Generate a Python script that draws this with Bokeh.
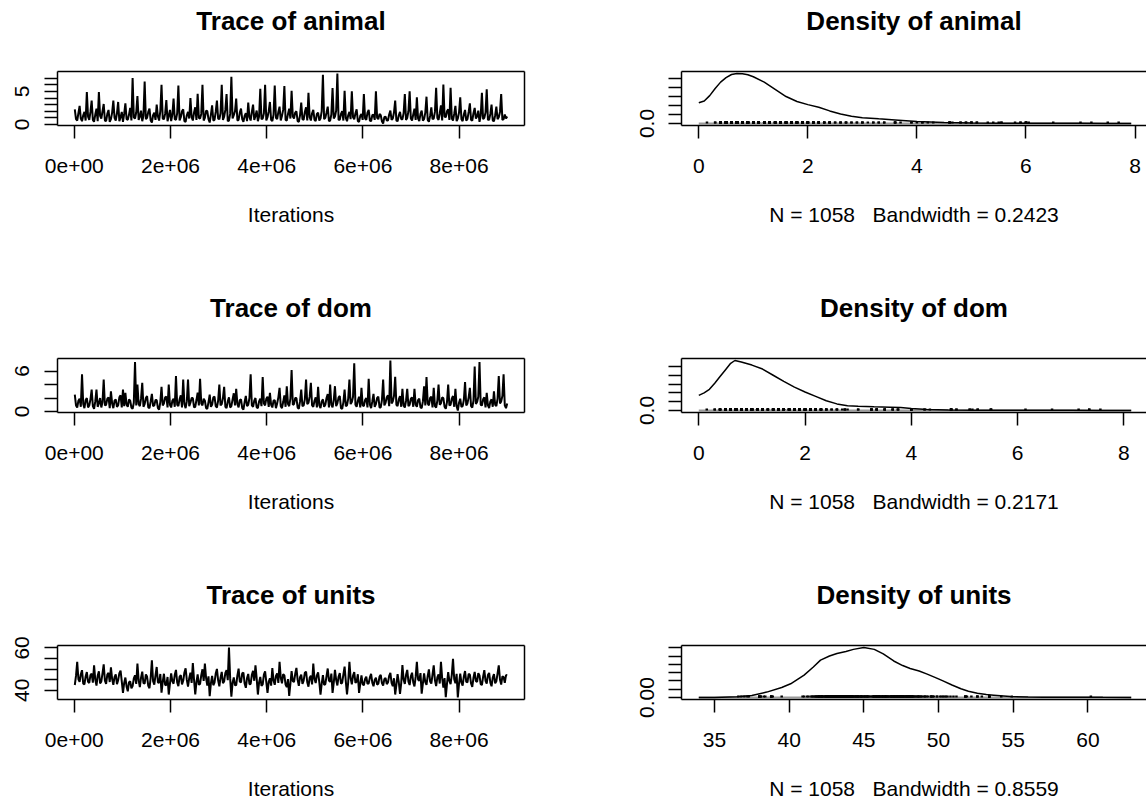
import numpy as np
from bokeh.plotting import figure
from bokeh.models import Range1d, FixedTicker, LinearAxis
from bokeh.layouts import column, row
from bokeh.embed import file_html
from bokeh.resources import INLINE

FONT = "Liberation Sans"

# ---- MCMC output (thinned chain) ----
n_samples = 1058
iter_first = 10000
iter_last = 9000000

animal_trace = [
    2.3, 0.8, 0.6, 1.7, 2.8, 0.9, 0.5, 1.4, 1.9, 0.6, 4.9, 1.2, 0.7, 1.9, 3.6, 0.7, 0.4, 1.5, 2.4, 0.5,
    4.9, 1.3, 0.9, 2.0, 3.1, 0.6, 0.5, 1.6, 2.2, 0.4, 0.8, 1.8, 3.6, 1.0, 0.6, 1.7, 3.4, 0.5, 1.1, 1.9,
    0.4, 1.6, 3.2, 0.8, 0.7, 1.5, 2.5, 0.6, 7.0, 1.1, 0.9, 1.8, 4.3, 0.7, 1.2, 2.1, 0.5, 1.3, 6.5, 0.8,
    1.0, 1.9, 2.4, 0.6, 0.3, 1.4, 1.8, 0.7, 3.0, 1.2, 0.6, 2.0, 6.0, 0.9, 0.8, 1.6, 3.7, 0.5, 1.3, 2.2,
    0.5, 1.5, 3.9, 0.8, 0.7, 1.7, 5.9, 0.6, 1.1, 2.0, 2.3, 0.5, 0.4, 1.4, 1.9, 0.9, 4.0, 1.1, 0.6, 1.8,
    2.6, 0.7, 4.65, 1.0, 0.9, 1.6, 6.0, 0.6, 1.0, 2.1, 2.0, 0.8, 0.3, 1.5, 2.9, 0.6, 0.7, 1.9, 3.6, 0.9,
    0.8, 1.7, 6.0, 0.7, 1.2, 2.2, 4.6, 0.5, 0.6, 1.6, 7.2, 0.9, 1.4, 2.0, 3.9, 0.6, 0.7, 1.8, 2.4, 0.8,
    0.4, 1.3, 1.7, 0.5, 3.3, 1.1, 0.6, 1.9, 3.0, 0.7, 1.3, 2.1, 0.5, 1.2, 5.4, 0.8, 0.9, 1.7, 6.0, 0.6,
    1.1, 2.0, 3.4, 0.7, 0.5, 1.5, 5.9, 1.0, 0.8, 1.9, 2.7, 0.6, 1.3, 2.2, 5.8, 0.7, 0.6, 1.6, 2.4, 0.9,
    5.1, 1.2, 0.9, 1.8, 2.0, 0.5, 0.4, 1.4, 3.3, 0.8, 0.7, 1.9, 2.6, 0.6, 4.8, 1.1, 0.6, 1.7, 2.2, 0.7,
    0.5, 1.6, 1.8, 0.6, 0.9, 2.0, 7.5, 0.8, 1.0, 1.8, 2.7, 0.5, 0.6, 1.5, 5.5, 0.9, 1.2, 2.1, 7.7, 0.7,
    0.7, 1.6, 2.0, 0.6, 5.1, 1.0, 0.5, 1.4, 1.9, 0.8, 5.0, 1.1, 0.8, 1.7, 2.3, 0.5, 0.4, 1.3, 1.6, 0.7,
    4.6, 0.9, 0.7, 1.8, 2.2, 0.6, 0.5, 1.4, 1.5, 0.7, 5.0, 1.0, 0.8, 1.6, 1.4, 0.5, 0.15, 1.1, 1.2, 0.6,
    0.6, 1.5, 2.1, 0.7, 0.9, 1.8, 3.6, 0.6, 0.5, 1.4, 1.9, 0.8, 0.8, 1.7, 4.6, 0.7, 1.0, 2.0, 5.0, 0.9,
    0.6, 1.5, 2.4, 0.7, 4.1, 0.9, 0.5, 1.6, 2.1, 0.6, 0.8, 1.8, 4.2, 0.7, 0.4, 1.3, 2.6, 0.8, 0.9, 1.9,
    5.55, 1.0, 0.7, 1.7, 2.9, 0.6, 6.05, 1.2, 1.1, 2.0, 2.3, 0.7, 5.55, 0.9, 0.6, 1.6, 2.8, 0.5, 0.9, 1.8,
    4.1, 0.8, 0.5, 1.5, 2.2, 0.6, 0.8, 1.9, 3.2, 0.7, 0.6, 1.7, 2.5, 0.9, 1.2, 2.1, 0.4, 1.3, 4.8, 0.8,
    1.0, 1.8, 5.3, 0.7, 0.7, 1.6, 3.0, 0.6, 0.5, 1.4, 2.7, 0.8, 1.1, 1.9, 4.6, 0.7, 0.8, 1.5, 0.9, 1.2,
]

dom_trace = [
    2.5, 0.9, 0.6, 1.6, 1.9, 0.7, 5.5, 1.1, 0.5, 1.7, 2.0, 0.6, 0.9, 1.8, 3.25, 0.8, 0.4, 1.5, 3.25, 0.7,
    1.2, 2.0, 0.6, 1.4, 4.75, 0.9, 1.0, 1.9, 2.1, 0.5, 3.0, 1.2, 0.5, 1.6, 1.8, 0.7, 0.9, 2.1, 2.4, 0.6,
    3.25, 0.8, 2.75, 1.0, 0.7, 1.8, 1.6, 0.6, 0.4, 1.3, 7.35, 0.9, 4.0, 1.1, 0.8, 1.9, 4.25, 0.7, 1.1, 2.0,
    2.3, 0.6, 0.5, 1.5, 2.6, 0.8, 0.9, 1.7, 1.7, 0.5, 0.3, 1.4, 3.65, 0.9, 1.2, 2.1, 2.2, 0.6, 4.0, 1.0,
    0.6, 1.6, 1.9, 0.7, 5.25, 1.0, 0.8, 1.8, 2.4, 0.6, 4.75, 1.1, 0.5, 1.5, 4.75, 0.8, 1.3, 2.0, 2.0, 0.6,
    0.7, 1.7, 2.8, 0.9, 4.85, 1.2, 0.9, 1.9, 1.6, 0.5, 0.4, 1.4, 2.5, 0.7, 1.0, 2.1, 2.2, 0.8, 0.6, 1.6,
    4.0, 0.9, 1.1, 2.0, 3.65, 0.7, 0.5, 1.5, 2.1, 0.6, 0.8, 1.8, 2.7, 0.9, 3.35, 1.1, 0.6, 1.7, 1.8, 0.5,
    0.3, 1.4, 2.3, 0.8, 1.0, 2.0, 5.5, 0.9, 0.7, 1.6, 2.0, 0.6, 0.5, 1.5, 1.9, 0.8, 5.1, 1.2, 0.9, 1.9,
    2.2, 0.7, 2.75, 1.0, 0.6, 1.6, 1.7, 0.5, 1.2, 2.1, 3.5, 0.8, 0.5, 1.4, 2.4, 0.7, 3.75, 1.1, 0.8, 1.9,
    6.15, 1.0, 1.1, 2.0, 2.0, 0.6, 0.4, 1.5, 3.25, 0.8, 0.9, 1.8, 4.75, 1.1, 1.3, 2.2, 4.25, 0.9, 0.7, 1.6,
    2.1, 0.6, 3.65, 0.9, 0.5, 1.5, 1.8, 0.7, 1.0, 2.0, 2.6, 0.6, 4.0, 1.0, 0.6, 1.7, 3.75, 0.8, 1.2, 2.1,
    2.3, 0.5, 0.4, 1.4, 3.25, 0.8, 0.9, 1.9, 4.75, 1.1, 1.4, 2.2, 7.15, 1.0, 0.7, 1.6, 2.2, 0.6, 3.5, 0.9,
    0.8, 1.7, 2.0, 0.6, 4.85, 1.0, 0.5, 1.5, 2.6, 0.7, 1.1, 2.0, 2.2, 0.6, 0.6, 1.7, 4.75, 0.9, 1.3, 2.1,
    2.4, 0.8, 7.56, 1.2, 1.5, 2.3, 5.15, 1.0, 0.8, 1.8, 2.3, 0.7, 3.35, 0.9, 0.6, 1.6, 3.35, 0.8, 1.0, 1.9,
    2.1, 0.7, 3.35, 1.0, 0.7, 1.7, 1.9, 0.6, 0.5, 1.5, 3.75, 0.9, 5.1, 1.2, 0.9, 2.0, 2.2, 0.6, 3.5, 0.8,
    0.6, 1.6, 4.0, 1.0, 1.2, 2.1, 2.0, 0.7, 0.4, 1.4, 4.0, 0.9, 1.0, 1.9, 2.3, 0.7, 3.35, 0.8, 0.15, 1.3,
    1.9, 0.7, 0.8, 1.7, 4.35, 0.9, 1.2, 2.1, 3.5, 0.8, 0.6, 1.6, 6.65, 1.1, 1.4, 2.2, 7.35, 1.0, 0.9, 1.8,
    2.1, 0.6, 2.75, 0.9, 0.5, 1.5, 1.8, 0.7, 3.0, 1.0, 0.8, 1.9, 5.25, 1.2, 1.5, 2.3, 5.5, 0.9, 0.5, 1.2,
]

units_trace = [
    42.5, 46.8, 53.4, 45.2, 44.0, 47.6, 49.5, 43.1, 42.8, 46.5, 48.6, 44.0, 43.5, 47.2, 47.9, 43.6, 51.8, 45.1, 42.2, 46.9,
    49.0, 43.3, 44.1, 48.0, 52.2, 44.6, 43.0, 47.4, 48.2, 43.9, 50.8, 45.3, 42.6, 46.2, 47.5, 42.9, 44.8, 48.1, 49.3, 44.2,
    38.8, 43.5, 46.0, 41.7, 39.5, 43.8, 44.2, 40.9, 42.0, 45.6, 47.1, 43.0, 52.6, 44.8, 41.5, 46.0, 48.8, 43.4, 43.2, 47.5,
    46.5, 42.1, 41.0, 45.9, 54.2, 44.3, 42.7, 47.0, 51.0, 43.8, 43.5, 47.7, 38.9, 44.0, 47.8, 42.6, 42.4, 46.3, 38.0, 43.2,
    48.0, 44.2, 43.1, 47.3, 49.6, 43.7, 42.0, 46.4, 47.2, 42.8, 44.5, 48.4, 50.4, 44.9, 41.8, 45.7, 48.3, 43.5, 52.9, 45.0,
    38.1, 43.9, 47.5, 42.6, 43.0, 47.1, 49.9, 44.4, 52.6, 45.8, 42.2, 46.6, 37.2, 43.3, 46.8, 42.4, 43.6, 47.9, 50.1, 44.7,
    41.9, 46.0, 48.7, 43.4, 44.2, 48.2, 49.5, 44.8, 60.2, 45.5, 37.0, 43.6, 46.1, 42.3, 42.5, 47.0, 50.2, 44.1, 43.8, 48.0,
    48.4, 43.2, 41.2, 45.8, 47.7, 42.9, 43.0, 47.3, 49.2, 44.5, 51.8, 45.6, 38.0, 43.7, 46.3, 42.1, 42.8, 47.4, 48.9, 43.9,
    38.8, 44.0, 45.7, 42.2, 50.5, 44.6, 42.6, 46.8, 48.0, 43.5, 53.4, 45.9, 43.3, 47.6, 47.0, 42.7, 41.5, 45.3, 37.3, 43.1,
    49.1, 44.3, 43.9, 47.8, 50.6, 44.9, 42.1, 46.2, 47.4, 43.0, 44.6, 48.3, 48.8, 43.8, 41.7, 45.9, 46.9, 42.8, 52.6, 45.4,
    43.4, 47.1, 48.5, 43.9, 38.0, 43.2, 47.2, 42.5, 42.9, 46.7, 50.3, 44.6, 44.0, 47.9, 38.8, 43.6, 49.7, 44.8, 42.3, 46.4,
    48.1, 43.1, 43.6, 47.5, 51.2, 44.2, 38.1, 43.9, 53.4, 45.7, 42.8, 46.9, 48.6, 43.5, 44.1, 47.6, 38.8, 43.0, 47.0, 42.9,
    42.4, 45.3, 46.4, 43.0, 43.3, 46.1, 47.8, 43.6, 41.9, 44.9, 46.0, 42.7, 43.1, 46.5, 47.3, 43.4, 42.2, 45.2, 45.8, 42.9,
    43.7, 46.8, 48.2, 43.5, 42.0, 45.7, 38.0, 42.6, 47.6, 43.8, 38.3, 43.4, 51.9, 45.0, 43.0, 47.2, 49.6, 44.1, 42.5, 46.6,
    48.3, 43.7, 41.8, 46.3, 53.4, 45.1, 44.5, 48.1, 38.4, 43.3, 48.0, 43.9, 42.6, 46.8, 49.9, 44.2, 43.2, 47.4, 51.8, 44.7,
    42.0, 46.1, 47.5, 43.2, 53.4, 45.6, 41.3, 45.8, 36.8, 43.0, 48.6, 44.4, 42.9, 47.3, 54.9, 45.2, 43.4, 47.8, 36.6, 43.1,
    47.9, 43.6, 42.2, 46.5, 49.1, 44.0, 43.8, 47.7, 47.4, 43.2, 41.6, 45.9, 48.7, 44.3, 44.0, 48.1, 47.0, 42.9, 42.5, 46.4,
    49.5, 44.5, 43.1, 47.2, 48.2, 43.6, 41.9, 46.0, 47.6, 43.3, 44.3, 48.0, 51.8, 45.1, 42.7, 46.6, 46.2, 43.5, 47.2, 47.0,
]

# ---- kernel density estimates ----
animal_dens_x = [0.0, 0.1, 0.2, 0.3, 0.4, 0.5, 0.6, 0.7, 0.8, 0.9, 1.0, 1.2, 1.4, 1.6, 1.8, 2.0,
                 2.2, 2.4, 2.6, 2.8, 3.0, 3.3, 3.6, 4.0, 4.5, 5.0, 5.5, 6.0, 6.5, 7.0, 7.5, 7.93]
animal_dens_y = [0.23, 0.25, 0.31, 0.39, 0.46, 0.51, 0.545, 0.556, 0.553, 0.542, 0.52, 0.46, 0.38, 0.30,
                 0.245, 0.21, 0.18, 0.14, 0.105, 0.08, 0.065, 0.052, 0.04, 0.022, 0.011, 0.005, 0.003,
                 0.002, 0.002, 0.0015, 0.001, 0.0002]

dom_dens_x = [0.0, 0.1, 0.2, 0.3, 0.4, 0.5, 0.6, 0.68, 0.8, 1.0, 1.2, 1.4, 1.6, 1.8, 2.0, 2.2, 2.4,
              2.6, 2.8, 3.0, 3.3, 3.6, 3.8, 4.0, 4.3, 4.7, 5.2, 6.0, 7.0, 7.5, 8.14]
dom_dens_y = [0.172, 0.2, 0.24, 0.31, 0.385, 0.46, 0.535, 0.567, 0.55, 0.515, 0.47, 0.40, 0.33, 0.265,
              0.21, 0.16, 0.11, 0.075, 0.055, 0.047, 0.042, 0.038, 0.033, 0.022, 0.01, 0.005, 0.003,
              0.002, 0.0015, 0.001, 0.0002]

units_dens_x = [33.95, 35.0, 36.5, 37.5, 38.5, 39.5, 40.1, 41.0, 41.6, 42.1, 42.7, 43.2, 43.8, 44.3,
                45.0, 45.7, 46.3, 47.0, 47.6, 48.1, 48.7, 49.2, 49.8, 50.3, 50.9, 51.5, 52.0, 52.6,
                53.2, 53.7, 54.8, 56.0, 57.0, 58.5, 60.0, 60.4, 61.0, 62.9]
units_dens_y = [0.0, 0.0003, 0.0016, 0.005, 0.013, 0.024, 0.033, 0.054, 0.073, 0.090, 0.100, 0.106,
                0.111, 0.116, 0.1205, 0.116, 0.105, 0.088, 0.077, 0.070, 0.064, 0.057, 0.048, 0.040,
                0.030, 0.021, 0.015, 0.010, 0.007, 0.0055, 0.0024, 0.0012, 0.0008, 0.0004, 0.0004,
                0.0007, 0.0004, 0.0]

bandwidths = {"animal": "0.2423", "dom": "0.2171", "units": "0.8559"}

# ---- ticks and labels ----
trace_x_ticks = [0, 2000000, 4000000, 6000000, 8000000]
trace_x_labels = ["0e+00", "2e+06", "4e+06", "6e+06", "8e+06"]

animal_trace_ticks = [0, 1, 2, 3, 4, 5, 6, 7]
animal_trace_labels = {0: "0", 5: "5"}
dom_trace_ticks = [0, 2, 4, 6]
dom_trace_labels = {0: "0", 6: "6"}
units_trace_ticks = [40, 45, 50, 55, 60]
units_trace_labels = {40: "40", 60: "60"}

dens_x_ticks = {"animal": [0, 2, 4, 6, 8], "dom": [0, 2, 4, 6, 8], "units": [35, 40, 45, 50, 55, 60]}
dens_y_ticks = {"animal": [0, 0.1, 0.2, 0.3, 0.4, 0.5], "dom": [0, 0.1, 0.2, 0.3, 0.4, 0.5],
                "units": [0, 0.02, 0.04, 0.06, 0.08, 0.1, 0.12]}
dens_y_zero_label = {"animal": "0.0", "dom": "0.0", "units": "0.00"}

# ---- layout geometry (pixels) ----
LEFT_W, RIGHT_W = 624, 522
ROW_H = [287, 287, 229]
BORDER_L, BORDER_T = 57, 71
FRAME_H = 54
LEFT_FRAME_W = 467
RIGHT_FRAME_W = RIGHT_W - BORDER_L


def padded(lo, hi, frac=0.04):
    span = hi - lo
    return lo - frac * span, hi + frac * span


def edge_axis(label=""):
    ax = LinearAxis(ticker=FixedTicker(ticks=[]), axis_line_color="black", axis_line_width=1.5,
                    major_tick_line_color=None, minor_tick_line_color=None,
                    major_tick_out=0, major_tick_in=0, minor_tick_out=0, minor_tick_in=0,
                    major_label_text_font_size="0px", major_label_standoff=0,
                    axis_label_standoff=0)
    if label:
        # panel heading, centred over the frame
        ax.axis_label = label
        ax.axis_label_text_font = FONT
        ax.axis_label_text_font_size = "26px"
        ax.axis_label_text_font_style = "bold"
        ax.axis_label_text_color = "black"
        ax.axis_label_standoff = 36
    return ax


def style_axis(ax, ticks, overrides, vertical=False):
    ax.ticker = FixedTicker(ticks=ticks)
    ax.major_label_overrides = overrides
    ax.axis_line_color = "black"
    ax.axis_line_width = 1.5
    ax.major_tick_line_color = "black"
    ax.major_tick_line_width = 1.5
    ax.major_tick_out = 13
    ax.major_tick_in = 0
    ax.minor_tick_line_color = None
    ax.major_label_text_font = FONT
    ax.major_label_text_font_size = "21px"
    ax.major_label_text_color = "black"
    ax.axis_label_text_font = FONT
    ax.axis_label_text_font_size = "21px"
    ax.axis_label_text_font_style = "normal"
    ax.axis_label_text_color = "black"
    if vertical:
        ax.major_label_orientation = "vertical"
        ax.major_label_standoff = 15
    else:
        ax.major_label_standoff = 20
        ax.axis_label_standoff = 27


def panel(title, width, height, border_right, x_range, y_range, closed_right):
    p = figure(width=width, height=height, x_range=x_range, y_range=y_range,
               output_backend="svg", toolbar_location=None, title_location=None,
               min_border_left=BORDER_L, min_border_right=border_right,
               min_border_top=BORDER_T, min_border_bottom=height - BORDER_T - FRAME_H)
    p.outline_line_color = None
    p.grid.visible = False
    p.background_fill_color = "white"
    p.border_fill_color = "white"
    p.add_layout(edge_axis(title), "above")
    if closed_right:
        p.add_layout(edge_axis(), "right")
    return p


def trace_panel(name, values, y_ticks, y_labels, height):
    its = np.linspace(iter_first, iter_last, len(values))
    xr = Range1d(*padded(iter_first, iter_last))
    yr = Range1d(*padded(min(values), max(values)))
    p = panel(f"Trace of {name}", LEFT_W, height, LEFT_W - BORDER_L - LEFT_FRAME_W, xr, yr, True)
    p.line(its, values, line_color="black", line_width=2)
    style_axis(p.below[0], trace_x_ticks, dict(zip(trace_x_ticks, trace_x_labels)))
    p.below[0].axis_label = "Iterations"
    style_axis(p.left[0], y_ticks,
               {t: y_labels.get(t, "") for t in y_ticks}, vertical=True)
    return p


def density_panel(name, dx, dy, samples, height):
    x0, x1 = padded(min(dx), max(dx))
    # the frame is cut at the right window edge
    x1 = x0 + (x1 - x0) * RIGHT_FRAME_W / LEFT_FRAME_W
    peak = max(dy)
    yr = Range1d(*padded(0, peak))
    p = panel(f"Density of {name}", RIGHT_W, height, 0, Range1d(x0, x1), yr, False)
    p.line([min(dx), max(dx)], [0, 0], line_color="#9a9a9a", line_width=2)
    # rug of the individual draws, sitting on the bottom edge
    p.segment(x0=samples, y0=0, x1=samples, y1=peak * 0.04, line_color="black", line_width=2.5)
    p.line(dx, dy, line_color="black", line_width=1.5)
    xt = dens_x_ticks[name]
    style_axis(p.below[0], xt, {t: str(t) for t in xt})
    p.below[0].axis_label = f"N = {n_samples}\u00a0\u00a0\u00a0Bandwidth = {bandwidths[name]}"
    yt = dens_y_ticks[name]
    style_axis(p.left[0], yt, {t: (dens_y_zero_label[name] if t == 0 else "") for t in yt},
               vertical=True)
    return p


rows = [
    ("animal", animal_trace, animal_trace_ticks, animal_trace_labels, animal_dens_x, animal_dens_y),
    ("dom", dom_trace, dom_trace_ticks, dom_trace_labels, dom_dens_x, dom_dens_y),
    ("units", units_trace, units_trace_ticks, units_trace_labels, units_dens_x, units_dens_y),
]

grid_rows = []
for (name, tr, yt, yl, dx, dy), h in zip(rows, ROW_H):
    grid_rows.append(row(trace_panel(name, tr, yt, yl, h),
                         density_panel(name, dx, dy, tr, h)))

layout = column(*grid_rows)
open("out.html", "w").write(file_html(layout, INLINE))
